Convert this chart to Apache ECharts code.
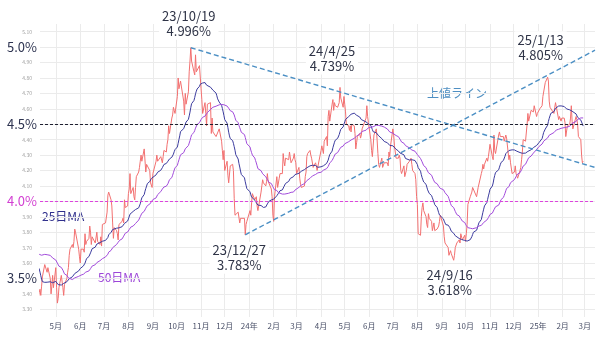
<!DOCTYPE html>
<html>
<head>
<meta charset="utf-8">
<script src="https://cdn.jsdelivr.net/npm/echarts@6/dist/echarts.min.js"></script>
<style>
  html, body { margin: 0; padding: 0; background: #fff; }
  #chart { width: 600px; height: 338px; }
</style>
</head>
<body>
<div id="chart"></div>
<script>
// US 10-year Treasury yield (%), daily closes.
// The first weeks (Jan–Apr 2023) lie left of the visible range and only feed the moving averages.
const tradeDays = [
  '2023-01-27','2023-01-30','2023-01-31',
  '2023-02-01','2023-02-02','2023-02-03','2023-02-06','2023-02-07','2023-02-08','2023-02-09','2023-02-10','2023-02-13','2023-02-14','2023-02-15','2023-02-16','2023-02-17','2023-02-21','2023-02-22','2023-02-23','2023-02-24','2023-02-27','2023-02-28',
  '2023-03-01','2023-03-02','2023-03-03','2023-03-06','2023-03-07','2023-03-08','2023-03-09','2023-03-10','2023-03-13','2023-03-14','2023-03-15','2023-03-16','2023-03-17','2023-03-20','2023-03-21','2023-03-22','2023-03-23','2023-03-24','2023-03-27','2023-03-28','2023-03-29','2023-03-30','2023-03-31',
  '2023-04-03','2023-04-04','2023-04-05','2023-04-06','2023-04-10','2023-04-11','2023-04-12','2023-04-13','2023-04-14','2023-04-17','2023-04-18','2023-04-19','2023-04-20','2023-04-21','2023-04-24','2023-04-25','2023-04-26','2023-04-27','2023-04-28',
  '2023-05-01','2023-05-02','2023-05-03','2023-05-04','2023-05-05','2023-05-08','2023-05-09','2023-05-10','2023-05-11','2023-05-12','2023-05-15','2023-05-16','2023-05-17','2023-05-18','2023-05-19','2023-05-22','2023-05-23','2023-05-24','2023-05-25','2023-05-26','2023-05-30','2023-05-31',
  '2023-06-01','2023-06-02','2023-06-05','2023-06-06','2023-06-07','2023-06-08','2023-06-09','2023-06-12','2023-06-13','2023-06-14','2023-06-15','2023-06-16','2023-06-20','2023-06-21','2023-06-22','2023-06-23','2023-06-26','2023-06-27','2023-06-28','2023-06-29','2023-06-30',
  '2023-07-03','2023-07-05','2023-07-06','2023-07-07','2023-07-10','2023-07-11','2023-07-12','2023-07-13','2023-07-14','2023-07-17','2023-07-18','2023-07-19','2023-07-20','2023-07-21','2023-07-24','2023-07-25','2023-07-26','2023-07-27','2023-07-28','2023-07-31',
  '2023-08-01','2023-08-02','2023-08-03','2023-08-04','2023-08-07','2023-08-08','2023-08-09','2023-08-10','2023-08-11','2023-08-14','2023-08-15','2023-08-16','2023-08-17','2023-08-18','2023-08-21','2023-08-22','2023-08-23','2023-08-24','2023-08-25','2023-08-28','2023-08-29','2023-08-30','2023-08-31',
  '2023-09-01','2023-09-05','2023-09-06','2023-09-07','2023-09-08','2023-09-11','2023-09-12','2023-09-13','2023-09-14','2023-09-15','2023-09-18','2023-09-19','2023-09-20','2023-09-21','2023-09-22','2023-09-25','2023-09-26','2023-09-27','2023-09-28','2023-09-29',
  '2023-10-02','2023-10-03','2023-10-04','2023-10-05','2023-10-06','2023-10-10','2023-10-11','2023-10-12','2023-10-13','2023-10-16','2023-10-17','2023-10-18','2023-10-19','2023-10-20','2023-10-23','2023-10-24','2023-10-25','2023-10-26','2023-10-27','2023-10-30','2023-10-31',
  '2023-11-01','2023-11-02','2023-11-03','2023-11-06','2023-11-07','2023-11-08','2023-11-09','2023-11-10','2023-11-13','2023-11-14','2023-11-15','2023-11-16','2023-11-17','2023-11-20','2023-11-21','2023-11-22','2023-11-24','2023-11-27','2023-11-28','2023-11-29','2023-11-30',
  '2023-12-01','2023-12-04','2023-12-05','2023-12-06','2023-12-07','2023-12-08','2023-12-11','2023-12-12','2023-12-13','2023-12-14','2023-12-15','2023-12-18','2023-12-19','2023-12-20','2023-12-21','2023-12-22','2023-12-26','2023-12-27','2023-12-28','2023-12-29',
  '2024-01-02','2024-01-03','2024-01-04','2024-01-05','2024-01-08','2024-01-09','2024-01-10','2024-01-11','2024-01-12','2024-01-16','2024-01-17','2024-01-18','2024-01-19','2024-01-22','2024-01-23','2024-01-24','2024-01-25','2024-01-26','2024-01-29','2024-01-30','2024-01-31',
  '2024-02-01','2024-02-02','2024-02-05','2024-02-06','2024-02-07','2024-02-08','2024-02-09','2024-02-12','2024-02-13','2024-02-14','2024-02-15','2024-02-16','2024-02-20','2024-02-21','2024-02-22','2024-02-23','2024-02-26','2024-02-27','2024-02-28','2024-02-29',
  '2024-03-01','2024-03-04','2024-03-05','2024-03-06','2024-03-07','2024-03-08','2024-03-11','2024-03-12','2024-03-13','2024-03-14','2024-03-15','2024-03-18','2024-03-19','2024-03-20','2024-03-21','2024-03-22','2024-03-25','2024-03-26','2024-03-27','2024-03-28',
  '2024-04-01','2024-04-02','2024-04-03','2024-04-04','2024-04-05','2024-04-08','2024-04-09','2024-04-10','2024-04-11','2024-04-12','2024-04-15','2024-04-16','2024-04-17','2024-04-18','2024-04-19','2024-04-22','2024-04-23','2024-04-24','2024-04-25','2024-04-26','2024-04-29','2024-04-30',
  '2024-05-01','2024-05-02','2024-05-03','2024-05-06','2024-05-07','2024-05-08','2024-05-09','2024-05-10','2024-05-13','2024-05-14','2024-05-15','2024-05-16','2024-05-17','2024-05-20','2024-05-21','2024-05-22','2024-05-23','2024-05-24','2024-05-28','2024-05-29','2024-05-30','2024-05-31',
  '2024-06-03','2024-06-04','2024-06-05','2024-06-06','2024-06-07','2024-06-10','2024-06-11','2024-06-12','2024-06-13','2024-06-14','2024-06-17','2024-06-18','2024-06-20','2024-06-21','2024-06-24','2024-06-25','2024-06-26','2024-06-27','2024-06-28',
  '2024-07-01','2024-07-02','2024-07-03','2024-07-05','2024-07-08','2024-07-09','2024-07-10','2024-07-11','2024-07-12','2024-07-15','2024-07-16','2024-07-17','2024-07-18','2024-07-19','2024-07-22','2024-07-23','2024-07-24','2024-07-25','2024-07-26','2024-07-29','2024-07-30','2024-07-31',
  '2024-08-01','2024-08-02','2024-08-05','2024-08-06','2024-08-07','2024-08-08','2024-08-09','2024-08-12','2024-08-13','2024-08-14','2024-08-15','2024-08-16','2024-08-19','2024-08-20','2024-08-21','2024-08-22','2024-08-23','2024-08-26','2024-08-27','2024-08-28','2024-08-29','2024-08-30',
  '2024-09-03','2024-09-04','2024-09-05','2024-09-06','2024-09-09','2024-09-10','2024-09-11','2024-09-12','2024-09-13','2024-09-16','2024-09-17','2024-09-18','2024-09-19','2024-09-20','2024-09-23','2024-09-24','2024-09-25','2024-09-26','2024-09-27','2024-09-30',
  '2024-10-01','2024-10-02','2024-10-03','2024-10-04','2024-10-07','2024-10-08','2024-10-09','2024-10-10','2024-10-11','2024-10-15','2024-10-16','2024-10-17','2024-10-18','2024-10-21','2024-10-22','2024-10-23','2024-10-24','2024-10-25','2024-10-28','2024-10-29','2024-10-30','2024-10-31',
  '2024-11-01','2024-11-04','2024-11-05','2024-11-06','2024-11-07','2024-11-08','2024-11-12','2024-11-13','2024-11-14','2024-11-15','2024-11-18','2024-11-19','2024-11-20','2024-11-21','2024-11-22','2024-11-25','2024-11-26','2024-11-27','2024-11-29',
  '2024-12-02','2024-12-03','2024-12-04','2024-12-05','2024-12-06','2024-12-09','2024-12-10','2024-12-11','2024-12-12','2024-12-13','2024-12-16','2024-12-17','2024-12-18','2024-12-19','2024-12-20','2024-12-23','2024-12-24','2024-12-26','2024-12-27','2024-12-30','2024-12-31',
  '2025-01-02','2025-01-03','2025-01-06','2025-01-07','2025-01-08','2025-01-10','2025-01-13','2025-01-14','2025-01-15','2025-01-16','2025-01-17','2025-01-21','2025-01-22','2025-01-23','2025-01-24','2025-01-27','2025-01-28','2025-01-29','2025-01-30','2025-01-31',
  '2025-02-03','2025-02-04','2025-02-05','2025-02-06','2025-02-07','2025-02-10','2025-02-11','2025-02-12','2025-02-13','2025-02-14','2025-02-18','2025-02-19','2025-02-20','2025-02-21','2025-02-24','2025-02-25','2025-02-26','2025-02-27'
];

const closeYields = [
  3.50,3.55,3.52,
  3.42,3.40,3.53,3.64,3.67,3.61,3.66,3.74,3.72,3.77,3.81,3.86,3.82,3.95,3.92,3.88,3.95,3.92,3.92,
  3.99,4.06,3.97,3.96,3.97,3.99,3.93,3.70,3.55,3.64,3.51,3.57,3.43,3.48,3.60,3.44,3.42,3.38,3.53,3.57,3.57,3.55,3.48,
  3.43,3.34,3.31,3.29,3.41,3.43,3.39,3.45,3.51,3.59,3.58,3.60,3.54,3.57,3.50,3.40,3.45,3.52,3.44,
  3.57,3.44,3.34,3.37,3.44,3.52,3.52,3.44,3.39,3.46,3.50,3.54,3.57,3.65,3.69,3.72,3.70,3.74,3.82,3.80,3.69,3.64,
  3.60,3.69,3.69,3.67,3.79,3.72,3.74,3.76,3.84,3.80,3.72,3.77,3.73,3.73,3.80,3.74,3.72,3.77,3.71,3.85,3.84,
  3.86,3.93,4.04,4.06,4.01,3.97,3.86,3.76,3.83,3.81,3.79,3.75,3.85,3.84,3.87,3.89,3.86,4.01,3.96,3.97,
  4.05,4.08,4.18,4.05,4.09,4.03,4.01,4.09,4.16,4.19,4.22,4.26,4.30,4.26,4.34,4.33,4.19,4.24,4.25,4.20,4.12,4.12,4.09,
  4.18,4.26,4.30,4.26,4.26,4.29,4.29,4.25,4.29,4.33,4.32,4.37,4.40,4.49,4.44,4.54,4.56,4.61,4.59,4.57,
  4.68,4.80,4.73,4.72,4.78,4.65,4.56,4.70,4.63,4.71,4.84,4.91,4.996,4.91,4.84,4.82,4.95,4.84,4.83,4.88,4.88,
  4.73,4.66,4.57,4.64,4.57,4.49,4.63,4.63,4.64,4.44,4.54,4.45,4.44,4.42,4.41,4.41,4.47,4.39,4.33,4.27,4.33,
  4.20,4.26,4.17,4.12,4.13,4.23,4.24,4.20,4.02,3.91,3.91,3.93,3.92,3.86,3.89,3.90,3.89,3.783,3.85,3.87,
  3.94,3.91,3.99,4.05,4.01,4.02,4.03,3.97,3.94,4.06,4.10,4.14,4.12,4.10,4.13,4.18,4.13,4.14,4.08,4.03,3.91,
  3.87,4.03,4.16,4.09,4.10,4.15,4.18,4.18,4.31,4.26,4.23,4.28,4.27,4.32,4.33,4.25,4.28,4.31,4.27,4.25,
  4.18,4.22,4.15,4.11,4.09,4.08,4.10,4.16,4.19,4.29,4.31,4.33,4.30,4.28,4.27,4.22,4.25,4.23,4.20,4.20,
  4.33,4.36,4.35,4.31,4.39,4.42,4.36,4.55,4.59,4.52,4.63,4.66,4.59,4.64,4.62,4.61,4.60,4.64,4.739,4.67,4.61,4.68,
  4.63,4.58,4.50,4.49,4.46,4.49,4.45,4.50,4.49,4.44,4.34,4.38,4.42,4.44,4.41,4.43,4.47,4.47,4.54,4.62,4.55,4.51,
  4.40,4.33,4.29,4.29,4.43,4.47,4.40,4.31,4.24,4.22,4.28,4.22,4.25,4.26,4.25,4.23,4.32,4.29,4.36,
  4.47,4.43,4.36,4.28,4.28,4.30,4.28,4.20,4.18,4.23,4.16,4.15,4.20,4.24,4.26,4.25,4.28,4.24,4.20,4.18,4.14,4.03,
  3.98,3.79,3.78,3.90,3.96,3.99,3.94,3.90,3.85,3.83,3.92,3.89,3.87,3.81,3.80,3.86,3.81,3.82,3.83,3.84,3.87,3.91,
  3.84,3.77,3.73,3.72,3.70,3.65,3.65,3.68,3.66,3.618,3.65,3.70,3.71,3.73,3.75,3.73,3.79,3.79,3.75,3.78,
  3.74,3.79,3.85,3.98,4.03,4.03,4.06,4.09,4.08,4.03,4.02,4.09,4.08,4.18,4.20,4.24,4.21,4.24,4.28,4.26,4.29,4.28,
  4.37,4.29,4.27,4.43,4.33,4.31,4.43,4.45,4.42,4.43,4.42,4.39,4.41,4.43,4.41,4.27,4.30,4.25,4.18,
  4.19,4.23,4.18,4.17,4.15,4.20,4.22,4.27,4.32,4.40,4.39,4.40,4.50,4.57,4.52,4.59,4.59,4.58,4.62,4.55,4.57,
  4.57,4.60,4.62,4.68,4.69,4.77,4.805,4.78,4.65,4.61,4.61,4.57,4.61,4.64,4.63,4.53,4.55,4.54,4.52,4.54,
  4.54,4.51,4.42,4.43,4.49,4.50,4.54,4.62,4.52,4.47,4.55,4.53,4.50,4.42,4.40,4.30,4.25,4.26
];

// Month ticks on the date axis and their labels
const monthTicks = [
  '2023-05-01','2023-06-01','2023-07-01','2023-08-01','2023-09-01','2023-10-01','2023-11-01','2023-12-01',
  '2024-01-01','2024-02-01','2024-03-01','2024-04-01','2024-05-01','2024-06-01','2024-07-01','2024-08-01',
  '2024-09-01','2024-10-01','2024-11-01','2024-12-01','2025-01-01','2025-02-01','2025-03-01'
];
const monthLabels = [
  '5月','6月','7月','8月','9月','10月','11月','12月',
  '24年','2月','3月','4月','5月','6月','7月','8月',
  '9月','10月','11月','12月','25年','2月','3月'
];

// Yield ticks; the half-percent levels get large labels
const yTicks = [3.3,3.4,3.5,3.6,3.7,3.8,3.9,4.0,4.1,4.2,4.3,4.4,4.5,4.6,4.7,4.8,4.9,5.0,5.1];
const majorLevels = [3.5, 4.0, 4.5, 5.0];

// Reference levels drawn as dashed horizontal lines
const refLevels = [4.5, 4.0];

// Marked highs and lows
const extremeDays = ['2023-10-19', '2024-04-25', '2025-01-13', '2023-12-27', '2024-09-16'];

// Trend lines: [date, yield] anchors
const resistanceLine = [['2023-10-19', 4.996], ['2025-03-14', 4.22]];
const supportLine = [['2023-12-27', 3.783], ['2025-03-14', 4.98]];

// Visible date range
const dateRange = ['2023-04-11', '2025-03-14'];

// ---------------------------------------------------------------
const FONT = '"Noto Sans CJK JP", "Noto Sans", sans-serif';
const DAY = 86400000;
const toTime = s => { const p = s.split('-').map(Number); return Date.UTC(p[0], p[1] - 1, p[2]); };

const pricePoints = tradeDays.map((d, i) => [toTime(d), closeYields[i]]);

function movingAverage(n) {
  const out = [];
  let sum = 0;
  for (let i = 0; i < closeYields.length; i++) {
    sum += closeYields[i];
    if (i >= n) sum -= closeYields[i - n];
    if (i >= n - 1) out.push([toTime(tradeDays[i]), sum / n]);
  }
  return out;
}

const monthTimes = monthTicks.map(toTime);
const isMajor = v => majorLevels.some(m => Math.abs(m - v) < 1e-6);

// label placement relative to each marked point (px)
const extremeOffsets = [[-2, -24], [-8, -29], [-7, -30], [-6, 23], [-4, 22]];

const extremeData = extremeDays.map((d, k) => {
  const v = closeYields[tradeDays.indexOf(d)];
  const p = d.split('-').map(Number);
  return {
    name: (p[0] % 100) + '/' + p[1] + '/' + p[2] + '\n' + v.toFixed(3) + '%',
    coord: [toTime(d), v],
    label: { offset: extremeOffsets[k] }
  };
});

const dashedLine = (color, width, dash) => ({ color, width, type: dash });

const chart = echarts.init(document.getElementById('chart'), null, { renderer: 'canvas' });

chart.setOption({
  animation: false,
  backgroundColor: '#ffffff',
  grid: { left: 40, right: 5, top: 24, bottom: 21, containLabel: false, outerBoundsMode: 'none' },
  xAxis: {
    type: 'value',
    min: toTime(dateRange[0]),
    max: toTime(dateRange[1]),
    axisLine: { show: false },
    axisTick: { show: false, customValues: monthTimes },
    axisLabel: {
      customValues: monthTimes,
      formatter: v => {
        let best = -1, bd = Infinity;
        monthTimes.forEach((t, i) => { const dd = Math.abs(t - v); if (dd < bd) { bd = dd; best = i; } });
        return bd < DAY ? monthLabels[best] : '';
      },
      color: '#4a5068',
      fontSize: 8,
      fontFamily: FONT,
      margin: 5,
      showMinLabel: true,
      showMaxLabel: true
    },
    splitLine: { show: true, lineStyle: { color: '#ebebeb', width: 1 } }
  },
  yAxis: {
    type: 'value',
    min: 3.25,
    max: 5.15,
    axisLine: { show: false },
    axisTick: { show: false, customValues: yTicks },
    axisLabel: {
      customValues: yTicks,
      margin: 3,
      formatter: v => {
        if (isMajor(v)) {
          const txt = v.toFixed(1) + '%';
          return Math.abs(v - 4.0) < 1e-6 ? '{pink|' + txt + '}' : '{big|' + txt + '}';
        }
        return '{small|' + v.toFixed(2) + '}';
      },
      rich: {
        big: { fontSize: 13, color: '#2d3350', fontFamily: FONT },
        pink: { fontSize: 13, color: '#d23fd2', fontFamily: FONT },
        small: { fontSize: 5, color: '#a0a0a0', fontFamily: FONT, padding: [0, 5, 0, 0] }
      }
    },
    splitLine: { show: true, lineStyle: { color: '#ebebeb', width: 1 } }
  },
  series: [
    {
      name: '10年債利回り',
      type: 'line',
      data: pricePoints,
      showSymbol: false,
      symbol: 'none',
      lineStyle: { color: '#f27070', width: 1 },
      z: 3,
      markLine: {
        silent: true,
        symbol: 'none',
        label: { show: false },
        data: [
          { yAxis: refLevels[0], lineStyle: dashedLine('#1e2030', 1, [3, 2]) },
          { yAxis: refLevels[1], lineStyle: dashedLine('#dd44dd', 1, [3, 2]) },
          [
            { coord: [toTime(resistanceLine[0][0]), resistanceLine[0][1]] },
            { coord: [toTime(resistanceLine[1][0]), resistanceLine[1][1]] }
          ],
          [
            { coord: [toTime(supportLine[0][0]), supportLine[0][1]] },
            { coord: [toTime(supportLine[1][0]), supportLine[1][1]] }
          ]
        ],
        lineStyle: dashedLine('#4b8fc4', 1.4, [5, 3])
      },
      markPoint: {
        silent: true,
        symbol: 'circle',
        symbolSize: 1,
        itemStyle: { color: 'rgba(0,0,0,0)' },
        data: extremeData,
        label: {
          show: true,
          position: 'inside',
          formatter: p => p.name,
          color: '#2f3447',
          fontSize: 13,
          lineHeight: 15,
          fontFamily: FONT,
          backgroundColor: '#ffffff',
          padding: [1, 3],
          align: 'center',
          verticalAlign: 'middle'
        }
      }
    },
    {
      name: '25日MA',
      type: 'line',
      data: movingAverage(25),
      showSymbol: false,
      symbol: 'none',
      lineStyle: { color: '#3b3b9e', width: 1 },
      z: 4
    },
    {
      name: '50日MA',
      type: 'line',
      data: movingAverage(50),
      showSymbol: false,
      symbol: 'none',
      lineStyle: { color: '#a24cdb', width: 1 },
      z: 4
    }
  ],
  graphic: [
    { type: 'text', x: 457, y: 93, style: { text: '上値ライン', fill: '#4f8fc2', font: '12px ' + FONT, align: 'center', verticalAlign: 'middle' } },
    { type: 'text', x: 42, y: 216, style: { text: '25日MA', fill: '#2f2f8c', font: '12px ' + FONT, align: 'left', verticalAlign: 'middle' } },
    { type: 'text', x: 98, y: 277, style: { text: '50日MA', fill: '#9c45d8', font: '12px ' + FONT, align: 'left', verticalAlign: 'middle' } }
  ]
});
</script>
</body>
</html>
